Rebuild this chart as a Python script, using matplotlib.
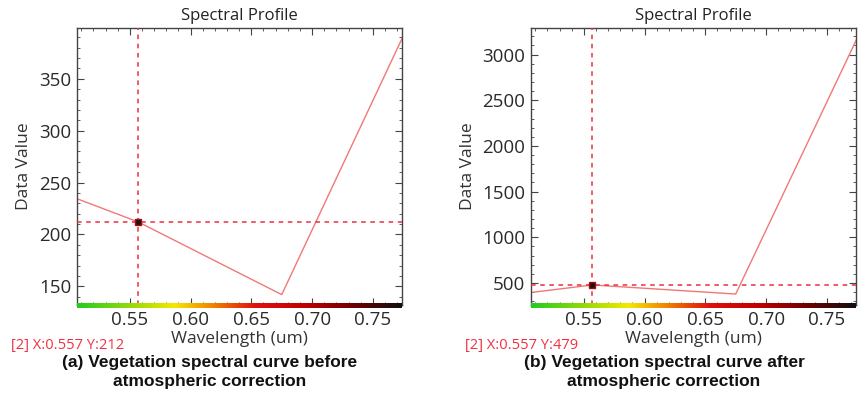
import matplotlib.pyplot as plt
import numpy as np
from matplotlib.colors import LinearSegmentedColormap
from matplotlib.ticker import MultipleLocator

# band centres (um) and values read from the profiles
wavelength = [0.485, 0.557, 0.675, 0.825]
before = [244, 212, 142, 516]
after = [362, 479, 380, 4580]

cursor_x = 0.557
cursor_y = [212, 479]
labels = ["[2] X:0.557 Y:212", "[2] X:0.557 Y:479"]
captions = ["(a) Vegetation spectral curve before\natmospheric correction",
            "(b) Vegetation spectral curve after\natmospheric correction"]
ylims = [(132, 399), (260, 3290)]
yticks_major = [50, 500]
yticks_minor = [10, 100]

xlim = (0.5065, 0.774)

plt.rcParams['font.family'] = ['Open Sans', 'DejaVu Sans']

spec = LinearSegmentedColormap.from_list("spec", [
    (0.0, "#22cc22"), (0.22, "#bbe000"), (0.30, "#f4e800"), (0.42, "#f08000"),
    (0.55, "#e01010"), (0.70, "#c00000"), (0.85, "#700000"), (1.0, "#101010")])

W, H = 866, 399
fig = plt.figure(figsize=(W / 100, H / 100), dpi=100)

lefts = [77, 531]
top, bottom = 28, 305
width = 325

for k, (data, left) in enumerate(zip([before, after], lefts)):
    ax = fig.add_axes([left / W, (H - bottom) / H, width / W, (bottom - top) / H])
    ax.plot(wavelength, data, color="#f07878", lw=1.0, zorder=2)
    ax.axvline(cursor_x, color="#e83040", lw=1.1, ls=(0, (3, 3)), zorder=3)
    ax.axhline(cursor_y[k], color="#e83040", lw=1.1, ls=(0, (3, 3)), zorder=3)
    ax.plot([cursor_x], [cursor_y[k]], marker="s", ms=4, color="#201010",
            mec="#a01010", zorder=4)
    ax.set_xlim(*xlim)
    ax.set_ylim(*ylims[k])
    ax.xaxis.set_major_locator(MultipleLocator(0.05))
    ax.xaxis.set_minor_locator(MultipleLocator(0.01))
    ax.yaxis.set_major_locator(MultipleLocator(yticks_major[k]))
    ax.yaxis.set_minor_locator(MultipleLocator(yticks_minor[k]))
    ax.tick_params(which="both", direction="in", top=True, right=True,
                   colors="#2a2a2a", labelsize=13.5, pad=4)
    ax.tick_params(which="major", length=5, color="#444444")
    ax.tick_params(which="minor", length=2.5, color="#444444")
    ax.xaxis.set_major_formatter(plt.FuncFormatter(lambda v, p: f"{v:.2f}"))
    for s in ax.spines.values():
        s.set_color("#444444")
        s.set_linewidth(1.0)
    ax.set_title("Spectral Profile", fontsize=12, color="#222222", pad=6)
    ax.set_xlabel("Wavelength (um)", fontsize=12.5, color="#333333", labelpad=2)
    ax.set_ylabel("Data Value", fontsize=12.5, color="#333333", labelpad=5)

    # wavelength colour strip along the bottom
    cax = fig.add_axes([left / W, (H - 308) / H, width / W, 5 / H])
    cax.imshow(np.linspace(0, 1, 256)[None, :], aspect="auto", cmap=spec,
               extent=[xlim[0], xlim[1], 0, 1])
    cax.set_axis_off()

    fig.text((left - 66) / W, 1 - 345 / H, labels[k], color="#f03040",
             fontsize=10.5, va="center", ha="left")
    fig.text((left + 133) / W, 1 - 372 / H, captions[k], fontsize=12.5,
             fontweight="bold", family="Liberation Sans", color="#111111",
             ha="center", va="center", linespacing=1.35)

fig.savefig("out.png", dpi=100)
